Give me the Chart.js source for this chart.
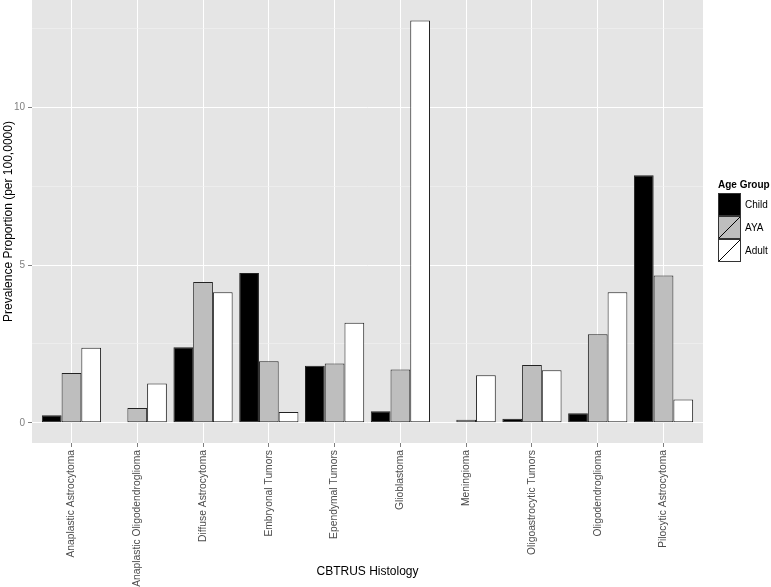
<!DOCTYPE html>
<html>
<head>
<meta charset="utf-8">
<script src="https://cdn.jsdelivr.net/npm/chart.js@4/dist/chart.umd.min.js"></script>
<style>
html,body{margin:0;padding:0;background:#fff;}
#wrap{width:771px;height:587px;position:relative;}
</style>
</head>
<body>
<div id="wrap"><canvas id="c" width="771" height="587"></canvas></div>
<script>
const categories = ["Anaplastic Astrocytoma","Anaplastic Oligodendroglioma","Diffuse Astrocytoma","Embryonal Tumors","Ependymal Tumors","Glioblastoma","Meningioma","Oligoastrocytic Tumors","Oligodendroglioma","Pilocytic Astrocytoma"];
const child = [0.24, 0.02, 2.40, 4.75, 1.81, 0.37, 0.02, 0.13, 0.30, 7.85];
const aya   = [1.58, 0.47, 4.47, 1.95, 1.88, 1.69, 0.10, 1.83, 2.81, 4.67];
const adult = [2.38, 1.25, 4.14, 0.34, 3.17, 12.76, 1.51, 1.67, 4.14, 0.74];
const seriesNames = ["Child","AYA","Adult"];
const yMajorTicks = [0, 5, 10];
const yMinorTicks = [2.5, 7.5, 12.5];

const fills = ["#000000","#BEBEBE","#FFFFFF"];
const FONT = "'Liberation Sans', Arial, Helvetica, sans-serif";

function toPoints(arr){ return arr.map((v,i)=>({x:i,y:v})); }

const panelBg = {
  id:'panelBg',
  beforeDraw(chart){
    const {ctx, chartArea:a} = chart;
    ctx.save();
    ctx.fillStyle = '#E5E5E5';
    ctx.fillRect(a.left, a.top, a.right-a.left, a.bottom-a.top);
    ctx.restore();
  }
};

const ggLegend = {
  id:'ggLegend',
  afterDraw(chart){
    const ctx = chart.ctx;
    const x0 = 718, yTitle = 185, ky = 193, ks = 23;
    ctx.save();
    ctx.fillStyle = '#000';
    ctx.font = "bold 10px " + FONT;
    ctx.textBaseline = 'middle';
    ctx.textAlign = 'left';
    ctx.fillText('Age Group', x0, yTitle);
    chart.data.datasets.forEach((ds, i) => {
      const y = ky + i*ks;
      ctx.fillStyle = ds.backgroundColor;
      ctx.fillRect(x0, y, ks, ks);
      ctx.strokeStyle = '#333';
      ctx.lineWidth = 1;
      ctx.strokeRect(x0+0.5, y+0.5, ks-1, ks-1);
      if (i > 0) {
        ctx.beginPath();
        ctx.moveTo(x0+1, y+ks-1);
        ctx.lineTo(x0+ks-1, y+1);
        ctx.strokeStyle = '#000';
        ctx.stroke();
      }
      ctx.fillStyle = '#000';
      ctx.font = "10px " + FONT;
      ctx.fillText(ds.label, x0 + ks + 4, y + ks/2 + 0.5);
    });
    ctx.restore();
  }
};

const datasets = [child, aya, adult].map((arr, i) => ({
  label: seriesNames[i],
  data: toPoints(arr),
  backgroundColor: fills[i],
  borderColor: '#222222',
  borderWidth: 1,
  borderSkipped: false,
  categoryPercentage: 0.9,
  barPercentage: 1.0
}));

new Chart(document.getElementById('c'), {
  type: 'bar',
  data: { datasets },
  options: {
    responsive: false,
    animation: false,
    devicePixelRatio: 1,
    layout: { padding: { top: 0, right: 68, bottom: 0, left: 0 } },
    plugins: { legend: { display: false }, tooltip: { enabled: false } },
    scales: {
      x: {
        type: 'linear',
        offset: false,
        min: -0.6,
        max: categories.length - 0.4,
        afterBuildTicks: s => { s.ticks = categories.map((c,i)=>({value:i})); },
        afterFit: s => { s.height = 144; s.paddingLeft = 0; s.paddingRight = 0; },
        grid: { offset: false, color: '#FFFFFF', lineWidth: 1, drawTicks: true, tickLength: 4, tickColor: '#7F7F7F' },
        border: { display: false },
        ticks: {
          autoSkip: false,
          maxRotation: 90,
          minRotation: 90,
          padding: 3,
          color: '#4D4D4D',
          font: { family: FONT, size: 10.3 },
          callback: (v) => categories[Math.round(v)] ?? ''
        },
        title: {
          display: true,
          text: 'CBTRUS Histology',
          color: '#000',
          font: { family: FONT, size: 12 },
          padding: { top: 0, bottom: 8 }
        }
      },
      y: {
        type: 'linear',
        min: -0.64,
        max: 13.41,
        afterBuildTicks: s => { s.ticks = yMajorTicks.concat(yMinorTicks).sort((a,b)=>a-b).map(v=>({value:v})); },
        afterFit: s => { s.width = 32; s.paddingTop = 0; s.paddingBottom = 0; },
        grid: {
          color: ctx => (ctx.tick && yMinorTicks.includes(ctx.tick.value)) ? '#F2F2F2' : '#FFFFFF',
          lineWidth: ctx => (ctx.tick && yMinorTicks.includes(ctx.tick.value)) ? 0.6 : 1,
          drawTicks: true,
          tickLength: 4,
          tickColor: ctx => (ctx.tick && yMinorTicks.includes(ctx.tick.value)) ? 'rgba(0,0,0,0)' : '#7F7F7F'
        },
        border: { display: false },
        ticks: {
          padding: 3,
          color: '#7F7F7F',
          font: { family: FONT, size: 10 },
          callback: v => yMajorTicks.includes(v) ? String(v) : ''
        },
        title: {
          display: true,
          text: 'Prevalence Proportion (per 100,0000)',
          color: '#000',
          font: { family: FONT, size: 12 },
          padding: { top: 1, bottom: 0 }
        }
      }
    }
  },
  plugins: [panelBg, ggLegend]
});
</script>
</body>
</html>
